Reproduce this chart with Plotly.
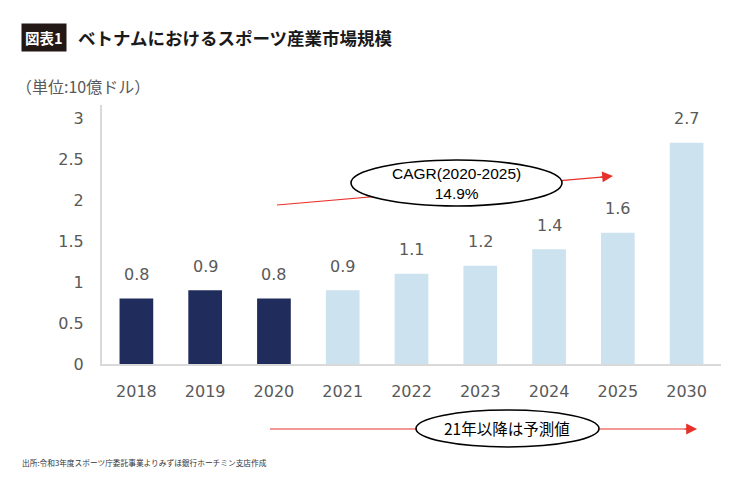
import plotly.graph_objects as go

years = ["2018", "2019", "2020", "2021", "2022", "2023", "2024", "2025", "2030"]
values = [0.8, 0.9, 0.8, 0.9, 1.1, 1.2, 1.4, 1.6, 2.7]
labels = ["0.8", "0.9", "0.8", "0.9", "1.1", "1.2", "1.4", "1.6", "2.7"]
actual_count = 3  # 2018-2020 actual, rest forecast

DARK = "#1F2C5C"
LIGHT = "#CCE2EE"
GRAY = "#595959"
RED = "#E8302A"
JP = "Noto Sans CJK JP"

colors = [DARK if i < actual_count else LIGHT for i in range(len(years))]

OFF = 8  # page body margin
W, H = 740 - OFF, 482 - OFF
# plot area in screen pixels: x 102..721, y 105..364
L, T = 102 - OFF, 105 - OFF
R, B = W - (721 - OFF), H - (364 - OFF)
PW, PH = W - L - R, H - T - B


def px(x):  # screen x -> paper
    return (x - OFF - L) / PW


def py(y):  # screen y -> paper
    return (H - B - (y - OFF)) / PH


fig = go.Figure(go.Bar(x=years, y=values, marker=dict(color=colors, line=dict(width=0)),
                       hoverinfo="skip"))

annotations = []
for i, (v, lab) in enumerate(zip(values, labels)):
    annotations.append(dict(x=i, y=v, xref="x", yref="y", text=lab, showarrow=False,
                            xanchor="center", yanchor="middle", yshift=24,
                            font=dict(family="DejaVu Sans", size=16, color=GRAY)))

shapes = []
# CAGR arrow line + ellipse
shapes.append(dict(type="line", xref="paper", yref="paper", x0=px(277), y0=py(205), x1=px(610), y1=py(176.3),
                   line=dict(color=RED, width=1.2), layer="above"))
shapes.append(dict(type="circle", xref="paper", yref="paper", x0=px(351), x1=px(562), y0=py(206), y1=py(160),
                   fillcolor="white", line=dict(color="black", width=1.6), layer="above"))
# forecast arrow line + ellipse
shapes.append(dict(type="line", xref="paper", yref="paper", x0=px(270), y0=py(429), x1=px(694), y1=py(429),
                   line=dict(color=RED, width=1.2), layer="above"))
shapes.append(dict(type="circle", xref="paper", yref="paper", x0=px(416), x1=px(599), y0=py(447), y1=py(410),
                   fillcolor="white", line=dict(color="black", width=1.6), layer="above"))

annotations += [
    dict(x=px(613), y=py(176), xref="paper", yref="paper", ax=-14, ay=1.2, text="", showarrow=True,
         arrowhead=2, arrowsize=1.8, arrowwidth=1.2, arrowcolor=RED),
    dict(x=px(697), y=py(429), xref="paper", yref="paper", ax=-14, ay=0, text="", showarrow=True,
         arrowhead=2, arrowsize=1.8, arrowwidth=1.2, arrowcolor=RED),
    dict(x=px(456), y=py(183), xref="paper", yref="paper", text="CAGR(2020-2025)<br>14.9%", showarrow=False,
         xanchor="center", yanchor="middle",
         font=dict(family="Liberation Sans", size=15.5, color="black"), align="center"),
    dict(x=px(507), y=py(428), xref="paper", yref="paper", text="21年以降は予測値", showarrow=False,
         xanchor="center", yanchor="middle",
         font=dict(family=JP, size=15.5, color="black")),
    # title
    dict(x=px(21), y=py(37.5), xref="paper", yref="paper", text="<b>図表1</b>", showarrow=False,
         xanchor="left", yanchor="middle", bgcolor="#231815", borderpad=3,
         font=dict(family=JP, size=14.5, color="white")),
    dict(x=px(76), y=py(37.5), xref="paper", yref="paper", text="<b>ベトナムにおけるスポーツ産業市場規模</b>",
         showarrow=False, xanchor="left", yanchor="middle",
         font=dict(family=JP, size=17.5, color="#1a1a1a")),
    dict(x=px(14), y=py(86), xref="paper", yref="paper", text="（単位:10億ドル）", showarrow=False,
         xanchor="left", yanchor="middle", font=dict(family=JP, size=16, color=GRAY)),
    dict(x=px(20), y=py(462), xref="paper", yref="paper",
         text="出所:令和3年度スポーツ庁委託事業よりみずほ銀行ホーチミン支店作成", showarrow=False,
         xanchor="left", yanchor="middle", font=dict(family=JP, size=7.7, color="#333333")),
]

fig.update_layout(
    width=W, height=H,
    margin=dict(l=L, r=R, t=T, b=B, autoexpand=False),
    paper_bgcolor="white", plot_bgcolor="white",
    bargap=0.51,
    showlegend=False,
    shapes=shapes,
    annotations=annotations,
    xaxis=dict(type="category", range=[-0.5, len(years) - 0.5], automargin=False,
               showline=True, linecolor="#D9D9D9", linewidth=1.5, showgrid=False,
               ticks="", ticklabelstandoff=12, tickfont=dict(family="DejaVu Sans", size=16, color=GRAY),
               fixedrange=True),
    yaxis=dict(range=[0, 3.16], tickvals=[0, 0.5, 1, 1.5, 2, 2.5, 3], ticktext=["0", "0.5", "1", "1.5", "2", "2.5", "3"],
               automargin=False,
               showline=True, linecolor="#D9D9D9", linewidth=2, showgrid=False, zeroline=False,
               ticks="", ticklabelstandoff=13, tickfont=dict(family="DejaVu Sans", size=16, color=GRAY),
               fixedrange=True),
)

fig.write_html("out.html")
